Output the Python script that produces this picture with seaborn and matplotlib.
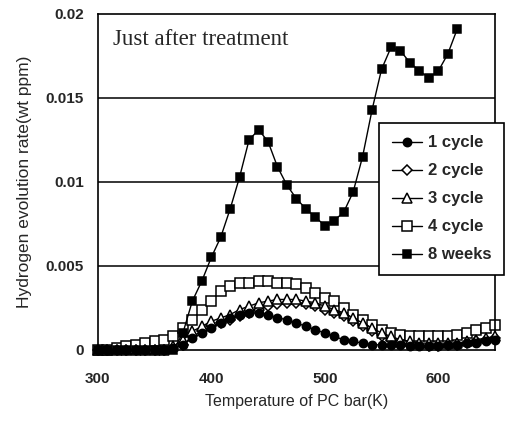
import matplotlib
matplotlib.use('Agg')
import matplotlib.pyplot as plt
import seaborn as sns
import pandas as pd

# temperature of the PC bar (K), one point every 100/12 K
temps = [300, 308.3, 316.7, 325, 333.3, 341.7, 350, 358.3, 366.7, 375, 383.3, 391.7,
         400, 408.3, 416.7, 425, 433.3, 441.7, 450, 458.3, 466.7, 475, 483.3, 491.7,
         500, 508.3, 516.7, 525, 533.3, 541.7, 550, 558.3, 566.7, 575, 583.3, 591.7,
         600, 608.3, 616.7, 625, 633.3, 641.7, 650]

cycle1 = [0, 0, 0, 0, 0, 0, 0, 0, 0.0001, 0.0003, 0.0007, 0.0010,
          0.0013, 0.0016, 0.0019, 0.0021, 0.0022, 0.0022, 0.0021, 0.0019, 0.0018, 0.0016, 0.0014, 0.0012,
          0.0010, 0.0008, 0.0006, 0.0005, 0.0004, 0.0003, 0.0003, 0.0003, 0.0003, 0.0002, 0.0002, 0.0002,
          0.0002, 0.0003, 0.0003, 0.0004, 0.0004, 0.0005, 0.0006]
cycle2 = [0, 0, 0, 0, 0, 0, 0, 0, 0.0001, 0.0003, 0.0008, 0.0011,
          0.0014, 0.0016, 0.0018, 0.0020, 0.0022, 0.0024, 0.0026, 0.0027, 0.0028, 0.0028, 0.0027, 0.0026,
          0.0024, 0.0022, 0.0020, 0.0017, 0.0014, 0.0011, 0.0008, 0.0006, 0.0004, 0.0003, 0.0003, 0.0002,
          0.0002, 0.0003, 0.0003, 0.0004, 0.0005, 0.0006, 0.0007]
cycle3 = [0, 0, 0, 0, 0, 0, 0, 0, 0.0002, 0.0006, 0.0011, 0.0014,
          0.0017, 0.0019, 0.0021, 0.0024, 0.0026, 0.0028, 0.0029, 0.0030, 0.0030, 0.0030, 0.0029, 0.0028,
          0.0026, 0.0024, 0.0022, 0.0019, 0.0016, 0.0013, 0.0010, 0.0008, 0.0006, 0.0005, 0.0004, 0.0004,
          0.0004, 0.0004, 0.0004, 0.0005, 0.0006, 0.0007, 0.0008]
cycle4 = [0, 0, 0.0001, 0.0002, 0.0003, 0.0004, 0.0005, 0.0006, 0.0008, 0.0013, 0.0018, 0.0024,
          0.0029, 0.0035, 0.0038, 0.0040, 0.0040, 0.0041, 0.0041, 0.0040, 0.0040, 0.0039, 0.0037, 0.0034,
          0.0031, 0.0029, 0.0025, 0.0021, 0.0018, 0.0015, 0.0012, 0.0010, 0.0009, 0.0008, 0.0008, 0.0008,
          0.0008, 0.0008, 0.0009, 0.0010, 0.0012, 0.0013, 0.0015]
weeks8 = [0, 0, 0, 0, 0, 0, 0, 0, 0, 0.0010, 0.0029, 0.0041,
          0.0055, 0.0067, 0.0084, 0.0103, 0.0125, 0.0131, 0.0124, 0.0109, 0.0098, 0.0090, 0.0084, 0.0079,
          0.0074, 0.0077, 0.0082, 0.0094, 0.0115, 0.0143, 0.0167, 0.0180, 0.0178, 0.0171, 0.0166, 0.0162,
          0.0166, 0.0176, 0.0191]

series_names = ['1 cycle', '2 cycle', '3 cycle', '4 cycle', '8 weeks']
yticks = [0, 0.005, 0.01, 0.015, 0.02]
ytick_labels = ['0', '0.005', '0.01', '0.015', '0.02']
xticks = [300, 400, 500, 600]

sns.set_style("white")
plt.rcParams['font.family'] = ['Liberation Sans', 'DejaVu Sans']

fig = plt.figure(figsize=(5.2, 4.21), dpi=100)
ax = fig.add_axes([0.188, 0.169, 0.764, 0.798])

styles = {
    '1 cycle': dict(marker='o', markerfacecolor='black', markersize=6, zorder=4),
    '2 cycle': dict(marker='D', markerfacecolor='white', markersize=5, zorder=3),
    '3 cycle': dict(marker='^', markerfacecolor='white', markersize=6.5, zorder=3.5),
    '4 cycle': dict(marker='s', markerfacecolor='white', markersize=6.5, zorder=2.5),
    '8 weeks': dict(marker='s', markerfacecolor='black', markersize=6, zorder=5),
}
values = [cycle1, cycle2, cycle3, cycle4, weeks8]

for name, vals in zip(series_names, values):
    df = pd.DataFrame({'T': temps[:len(vals)], 'rate': vals})
    st = styles[name]
    sns.lineplot(data=df, x='T', y='rate', ax=ax, color='black', linewidth=1.0,
                 marker=st['marker'], markerfacecolor=st['markerfacecolor'],
                 markeredgecolor='black', markeredgewidth=1.1, markersize=st['markersize'],
                 label=name, clip_on=False, zorder=st['zorder'])

ax.set_xlim(300, 650)
ax.set_ylim(0, 0.02)
ax.set_xticks(xticks)
ax.set_xticks([350, 450, 550], minor=True)
ax.set_yticks(yticks)
ax.set_yticklabels(ytick_labels)
ax.tick_params(axis='x', which='both', direction='in', length=5, width=0.8, color='black',
               labelsize=11, pad=16)
ax.tick_params(axis='y', length=0, labelsize=11, pad=10)
for lab in ax.get_xticklabels() + ax.get_yticklabels():
    lab.set_fontweight('bold')

for y in yticks[1:4]:
    ax.axhline(y, color='black', linewidth=1.1, zorder=1)

for sp in ax.spines.values():
    sp.set_color('black')
    sp.set_linewidth(1.2)

ax.set_xlabel('Temperature of PC bar(K)', fontsize=11.5, labelpad=6)
ax.set_ylabel('Hydrogen evolution rate(wt ppm)', fontsize=12.5, labelpad=10)

ax.text(313, 0.01845, 'Just after treatment', fontsize=16.5, va='center', ha='left',
        family=['Liberation Serif', 'DejaVu Serif'])

leg = ax.legend(loc='upper left', bbox_to_anchor=(0.729, 0.708), bbox_transform=fig.transFigure,
                fontsize=12, frameon=True, fancybox=False, edgecolor='black',
                handlelength=1.8, handletextpad=0.4, labelspacing=0.78, borderpad=0.75,
                borderaxespad=0)
leg.get_frame().set_linewidth(1.2)
leg.get_frame().set_alpha(1)
leg.set_zorder(10)
for t in leg.get_texts():
    t.set_fontweight('bold')

fig.savefig('out.png', dpi=100)
plt.close(fig)
